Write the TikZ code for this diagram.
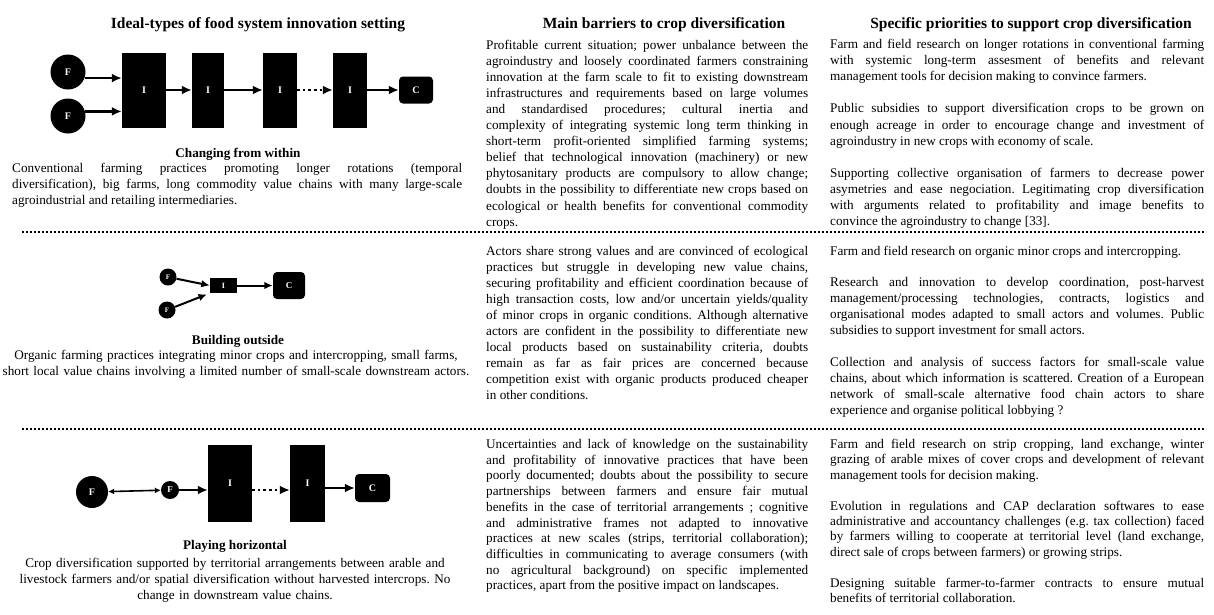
\documentclass[tikz,border=0pt]{standalone}
\usepackage{fontspec}
\setmainfont{Liberation Serif}
\usetikzlibrary{arrows.meta}
\tolerance=10000
\hbadness=10000
\frenchspacing
\newcommand{\paragap}{\par\vspace{\baselineskip}}
\begin{document}
\begin{tikzpicture}[x=1pt,y=-1pt,
	farm/.style={circle,fill=black,text=white,inner sep=0pt,font=\fontsize{10}{10}\selectfont\bfseries},
	inter/.style={rectangle,fill=black,text=white,inner sep=0pt,font=\fontsize{10}{10}\selectfont\bfseries},
	cons/.style={rectangle,rounded corners=4pt,fill=black,text=white,inner sep=0pt,font=\fontsize{10}{10}\selectfont\bfseries},
	arr/.style={-{Latex[length=10pt,width=9pt]},line width=2.6pt},
	arrsmall/.style={-{Latex[length=8.5pt,width=7.5pt]},line width=2pt},
	dotarr/.style={-{Latex[length=10pt,width=9pt]},line width=2.6pt,dash pattern=on 2.6pt off 3pt},
	divider/.style={line width=2pt,dash pattern=on 1.8pt off 2.2pt},
	colhead/.style={font=\fontsize{15.5}{18}\selectfont\bfseries,anchor=base,inner sep=0pt},
	capt/.style={font=\fontsize{13.2}{16}\selectfont\bfseries,anchor=base,inner sep=0pt},
	txt/.style={font=\fontsize{13.2}{#1}\selectfont,anchor=base west,inner sep=0pt,align=justify},
	txt/.default=15.9]
	\useasboundingbox (0,0) rectangle (1214,614);
	\node[colhead] (h1) at (258,28) {Ideal-types of food system innovation setting};
	\node[colhead] (h2) at (664,28) {Main barriers to crop diversification};
	\node[colhead] (h3) at (1031,28) {Specific priorities to support crop diversification};
	\node[farm,minimum size=35pt] (F1a) at (68,72) {F};
	\node[farm,minimum size=35pt] (F1b) at (68,116) {F};
	\node[inter,minimum width=44pt,minimum height=75pt] (I1a) at (144,90) {I};
	\node[inter,minimum width=32pt,minimum height=75pt] (I1b) at (208,90) {I};
	\node[inter,minimum width=34pt,minimum height=75pt] (I1c) at (280,90) {I};
	\node[inter,minimum width=34pt,minimum height=75pt] (I1d) at (350,90) {I};
	\node[cons,minimum width=34pt,minimum height=27pt] (C1) at (416,90) {C};
	\draw[arr] (F1a.-20) -- (F1a.-20 -| I1a.west);
	\draw[arr] (F1b.15) -- (F1b.15 -| I1a.west);
	\draw[arr] (I1a) -- (I1b);
	\draw[arr] (I1b) -- (I1c);
	\draw[dotarr] (I1c) -- (I1d);
	\draw[arr] (I1d) -- (C1);
	\node[capt] (cap1) at (238,157.5) {Changing from within};
	\node[txt,text width=450pt] (desc1) at (12,172.5) {Conventional farming practices promoting longer rotations (temporal\linebreak diversification), big farms, long commodity value chains with many large-scale\linebreak agroindustrial and retailing intermediaries.};
	\node[txt=16.1,text width=322pt] (bar1) at (486,49) {Profitable current situation; power unbalance between the\linebreak agroindustry and loosely coordinated farmers constraining\linebreak innovation at the farm scale to fit to existing downstream\linebreak infrastructures and requirements based on large volumes\linebreak and standardised procedures; cultural inertia and\linebreak complexity of integrating systemic long term thinking in\linebreak short-term profit-oriented simplified farming systems;\linebreak belief that technological innovation (machinery) or new\linebreak phytosanitary products are compulsory to allow change;\linebreak doubts in the possibility to differentiate new crops based on\linebreak ecological or health benefits for conventional commodity\linebreak crops.};
	\node[txt=16.1,text width=374pt] (prio1) at (830,48.5) {Farm and field research on longer rotations in conventional farming\linebreak with systemic long-term assesment of benefits and relevant\linebreak management tools for decision making to convince farmers.\paragap
		Public subsidies to support diversification crops to be grown on\linebreak enough acreage in order to encourage change and investment of\linebreak agroindustry in new crops with economy of scale.\paragap
		Supporting collective organisation of farmers to decrease power\linebreak asymetries and ease negociation. Legitimating crop diversification\linebreak with arguments related to profitability and image benefits to\linebreak convince the agroindustry to change [33].};
	\draw[divider] (22,232) -- (1206,232);
	\node[farm,minimum size=17pt,font=\fontsize{7}{7}\selectfont\bfseries] (F2a) at (168,277) {F};
	\node[farm,minimum size=17pt,font=\fontsize{7}{7}\selectfont\bfseries] (F2b) at (167,310) {F};
	\node[inter,minimum width=27pt,minimum height=15pt,font=\fontsize{8}{8}\selectfont\bfseries] (I2) at (223.5,285.5) {I};
	\node[cons,minimum width=32pt,minimum height=27pt,font=\fontsize{9}{9}\selectfont\bfseries] (C2) at (289,285.5) {C};
	\draw[arrsmall] (F2a) -- (I2.west);
	\draw[arrsmall,shorten >=3pt] (F2b) -- (I2.south west);
	\draw[arrsmall] (I2) -- (C2);
	\node[capt] (cap2) at (238,344.5) {Building outside};
	\node[txt,text width=470pt,align=center,anchor=base] (desc2) at (236,359.5) {Organic farming practices integrating minor crops and intercropping, small farms,\\ short local value chains involving a limited number of small-scale downstream actors.};
	\node[txt=16,text width=322pt] (bar2) at (486,255) {Actors share strong values and are convinced of ecological\linebreak practices but struggle in developing new value chains,\linebreak securing profitability and efficient coordination because of\linebreak high transaction costs, low and/or uncertain yields/quality\linebreak of minor crops in organic conditions. Although alternative\linebreak actors are confident in the possibility to differentiate new\linebreak local products based on sustainability criteria, doubts\linebreak remain as far as fair prices are concerned because\linebreak competition exist with organic products produced cheaper\linebreak in other conditions.};
	\node[txt,text width=374pt] (prio2) at (830,255) {Farm and field research on organic minor crops and intercropping.\paragap
		Research and innovation to develop coordination, post-harvest\linebreak management/processing technologies, contracts, logistics and\linebreak organisational modes adapted to small actors and volumes. Public\linebreak subsidies to support investment for small actors.\paragap
		Collection and analysis of success factors for small-scale value\linebreak chains, about which information is scattered. Creation of a European\linebreak network of small-scale alternative food chain actors to share\linebreak experience and organise political lobbying ?};
	\draw[divider] (22,429) -- (1206,429);
	\node[farm,minimum size=32pt] (F3a) at (92,492) {F};
	\node[farm,minimum size=18pt,font=\fontsize{9}{9}\selectfont\bfseries] (F3b) at (170,490) {F};
	\node[inter,minimum width=44pt,minimum height=77pt] (I3a) at (230,483.5) {I};
	\node[inter,minimum width=35pt,minimum height=77pt] (I3b) at (307.5,483.5) {I};
	\node[cons,minimum width=35pt,minimum height=28pt] (C3) at (372.5,488) {C};
	\draw[{Latex[length=6pt,width=6pt]}-{Latex[length=6pt,width=6pt]},line width=1.6pt] (F3a) -- (F3b);
	\draw[arr] (F3b.east) -- (F3b.east -| I3a.west);
	\draw[dotarr] (F3b.east -| I3a.east) -- (F3b.east -| I3b.west);
	\draw[arr] (I3b.east |- C3) -- (C3);
	\node[capt] (cap3) at (235,549.5) {Playing horizontal};
	\node[txt,text width=470pt,align=center,anchor=base] (desc3) at (235,567.5) {Crop diversification supported by territorial arrangements between arable and\\ livestock farmers and/or spatial diversification without harvested intercrops. No\\ change in downstream value chains.};
	\node[txt=15.7,text width=322pt] (bar3) at (486,448.5) {Uncertainties and lack of knowledge on the sustainability\linebreak and profitability of innovative practices that have been\linebreak poorly documented; doubts about the possibility to secure\linebreak partnerships between farmers and ensure fair mutual\linebreak benefits in the case of territorial arrangements ; cognitive\linebreak and administrative frames not adapted to innovative\linebreak practices at new scales (strips, territorial collaboration);\linebreak difficulties in communicating to average consumers (with\linebreak no agricultural background) on specific implemented\linebreak practices, apart from the positive impact on landscapes.};
	\node[txt=15.4,text width=374pt] (prio3) at (830,448.5) {Farm and field research on strip cropping, land exchange, winter\linebreak grazing of arable mixes of cover crops and development of relevant\linebreak management tools for decision making.\paragap
		Evolution in regulations and CAP declaration softwares to ease\linebreak administrative and accountancy challenges (e.g. tax collection) faced\linebreak by farmers willing to cooperate at territorial level (land exchange,\linebreak direct sale of crops between farmers) or growing strips.\paragap
		Designing suitable farmer-to-farmer contracts to ensure mutual\linebreak benefits of territorial collaboration.};
\end{tikzpicture}
\end{document}
